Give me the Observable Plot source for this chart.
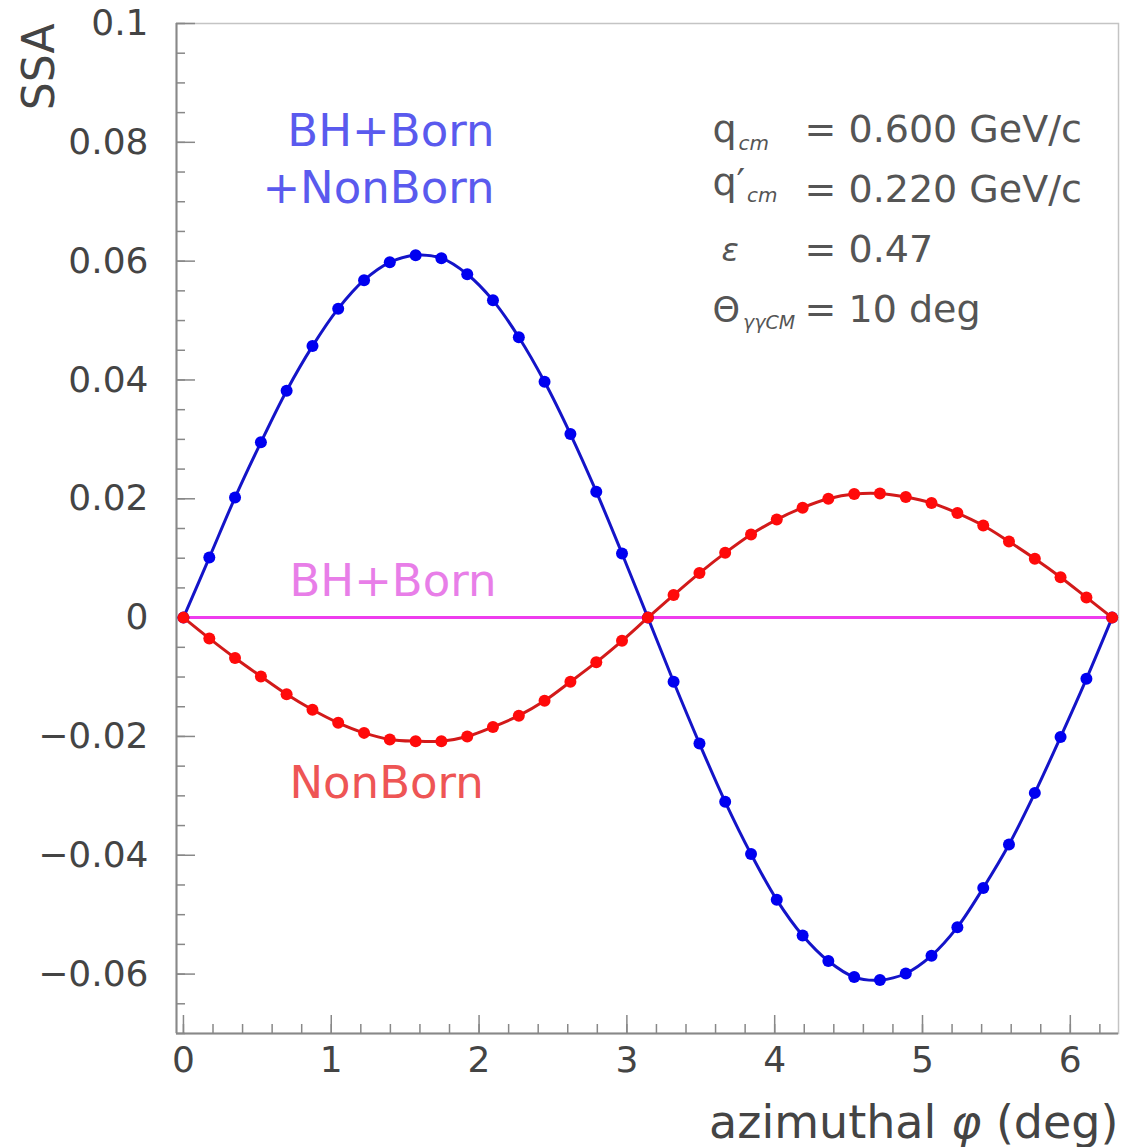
<!DOCTYPE html>
<html><head><meta charset="utf-8">
<script src="https://cdn.jsdelivr.net/npm/d3@7"></script>
<script src="https://cdn.jsdelivr.net/npm/@observablehq/plot@0.6"></script>
<style>html,body{margin:0;padding:0;background:#fff;} #chart svg{display:block;}</style>
</head><body><div id="chart"></div>
<script>
// azimuthal angle phi (rad) at which the curves are sampled
const phi = [0.000,0.175,0.349,0.524,0.698,0.873,1.047,1.222,1.396,1.571,1.745,1.920,2.094,2.269,2.443,2.618,2.793,2.967,3.142,3.316,3.491,3.665,3.840,4.014,4.189,4.363,4.538,4.712,4.887,5.061,5.236,5.411,5.585,5.760,5.934,6.109,6.283];
// SSA, BH+Born+NonBorn (blue)
const ssaTotal = [0,0.0101,0.0202,0.0295,0.0382,0.0457,0.0520,0.0568,0.0598,0.0610,0.0605,0.0578,0.0534,0.0472,0.0397,0.0309,0.0212,0.0108,0,-0.0108,-0.0212,-0.0310,-0.0398,-0.0475,-0.0535,-0.0578,-0.0605,-0.0610,-0.0599,-0.0569,-0.0521,-0.0455,-0.0382,-0.0295,-0.0201,-0.0103,0];
// SSA, NonBorn (red)
const ssaNonBorn = [0,-0.0035,-0.0068,-0.0099,-0.0129,-0.0155,-0.0177,-0.0194,-0.0205,-0.0208,-0.0208,-0.0200,-0.0184,-0.0165,-0.0140,-0.0108,-0.0075,-0.0039,0,0.0038,0.0075,0.0109,0.0140,0.0165,0.0185,0.0200,0.0208,0.0209,0.0203,0.0193,0.0176,0.0155,0.0128,0.0099,0.0068,0.0034,0];
// SSA, BH+Born (magenta) – identically zero
const phiBHBorn = [0.000, 6.283];
const ssaBHBorn = [0, 0];

// axis ticks
const xMajorTicks = [0,1,2,3,4,5,6];
const yMajorTicks = [-0.06,-0.04,-0.02,0,0.02,0.04,0.06,0.08,0.1];
const xMinorTicks = d3.range(0, 6.3, 0.2).map(v => +v.toFixed(2));
const yMinorTicks = d3.range(-0.07, 0.1001, 0.005).map(v => +v.toFixed(3));

// axis text
const xTitle = "azimuthal φ (deg)";
const yTitle = "SSA";

// build tables
const total = phi.map((p, i) => ({phi: p, ssa: ssaTotal[i]}));
const nonBorn = phi.map((p, i) => ({phi: p, ssa: ssaNonBorn[i]}));
const bhBorn = phiBHBorn.map((p, i) => ({phi: p, ssa: ssaBHBorn[i]}));

const xDomain = [-0.047, 6.326];
const yDomain = [-0.07, 0.1];

const fmtY = d => d === 0 ? "0" : (d < 0 ? "\u2212" : "") + String(+Math.abs(d).toFixed(3));

function label(text, x, y, o) {
  return Plot.text([{x, y, text}], {x: "x", y: "y", text: "text", textAnchor: "start", lineAnchor: "bottom", ...o});
}
const paramStyle = {fill: "#555", fontSize: 38};
const subStyle = {fill: "#555", fontSize: 20, fontStyle: "italic"};

const chart = Plot.plot({
  width: 1124, height: 1147,
  marginLeft: 176, marginRight: 6, marginTop: 23, marginBottom: 114,
  x: {domain: xDomain},
  y: {domain: yDomain},
  style: {fontFamily: "DejaVu Sans", background: "white", color: "#444"},
  marks: [
    Plot.frame({stroke: "#c4c4c4", strokeWidth: 1.5}),
    Plot.ruleX([xDomain[0]], {stroke: "#888", strokeWidth: 2}),
    Plot.ruleY([yDomain[0]], {stroke: "#888", strokeWidth: 2}),
    Plot.axisY(yMinorTicks, {tickSize: -9, tickFormat: () => "", stroke: "#888", strokeWidth: 1.5, label: null}),
    Plot.axisY(yMajorTicks, {tickSize: -19, tickFormat: () => "", stroke: "#888", strokeWidth: 1.5, label: null}),
    Plot.axisY(yMajorTicks, {tickSize: 0, tickPadding: 28, tickFormat: fmtY, fontSize: 36, fill: "#444", label: null}),
    Plot.axisX(xMinorTicks, {tickSize: -9, tickFormat: () => "", stroke: "#888", strokeWidth: 1.5, label: null}),
    Plot.axisX(xMajorTicks, {tickSize: -18, tickFormat: () => "", stroke: "#888", strokeWidth: 1.5, label: null}),
    Plot.axisX(xMajorTicks, {tickSize: 0, tickPadding: 13, tickFormat: d => String(d), fontSize: 36, fill: "#444", label: null}),

    // curves
    Plot.line(bhBorn, {x: "phi", y: "ssa", stroke: "#ee3cee", strokeWidth: 3}),
    Plot.line(total, {x: "phi", y: "ssa", stroke: "#1414c8", strokeWidth: 3, curve: "catmull-rom"}),
    Plot.dot(total, {x: "phi", y: "ssa", r: 6, fill: "#0000f0", stroke: "none"}),
    Plot.line(nonBorn, {x: "phi", y: "ssa", stroke: "#d21a1a", strokeWidth: 3, curve: "catmull-rom"}),
    Plot.dot(nonBorn, {x: "phi", y: "ssa", r: 6, fill: "#ff0a0a", stroke: "none"}),

    // curve labels
    label("BH+Born", 0.703, 0.0794, {fill: "#5a5aee", fontSize: 45}),
    label("+NonBorn", 0.534, 0.0698, {fill: "#5a5aee", fontSize: 45}),
    label("BH+Born", 0.717, 0.0037, {fill: "#e87ee8", fontSize: 45}),
    label("NonBorn", 0.717, -0.0303, {fill: "#ee5555", fontSize: 45}),

    // kinematics block
    label("q", 3.579, 0.0800, paramStyle),
    label("cm", 3.755, 0.0787, subStyle),
    label("= 0.600 GeV/c", 4.202, 0.0800, paramStyle),
    label("q\u2032", 3.579, 0.0712, paramStyle),
    label("cm", 3.812, 0.0700, subStyle),
    label("= 0.220 GeV/c", 4.202, 0.0699, paramStyle),
    label("ε", 3.640, 0.0601, {fill: "#555", fontSize: 32, fontStyle: "italic"}),
    label("= 0.47", 4.202, 0.0598, paramStyle),
    label("Θ", 3.579, 0.0497, {fill: "#555", fontSize: 35}),
    label("γγCM", 3.785, 0.0485, {fill: "#555", fontSize: 19, fontStyle: "italic"}),
    label("= 10 deg", 4.202, 0.0497, paramStyle),

    // axis titles
    Plot.text([xTitle], {frameAnchor: "bottom-right", textAnchor: "end", lineAnchor: "bottom", dy: 104, fontSize: 46, fill: "#444"}),
    Plot.text([yTitle], {frameAnchor: "top-left", textAnchor: "end", lineAnchor: "bottom", rotate: -90, dx: -123, fontSize: 44, fill: "#444"})
  ]
});

// italic phi in the x title
d3.select(chart).selectAll("text").filter(function() { return this.textContent === xTitle; }).each(function() {
  const t = d3.select(this);
  const parts = xTitle.split("φ");
  t.text(null);
  t.append("tspan").text(parts[0]);
  t.append("tspan").attr("font-style", "italic").text("φ");
  t.append("tspan").text(parts[1]);
});

document.getElementById("chart").appendChild(chart);
</script>
</body></html>
